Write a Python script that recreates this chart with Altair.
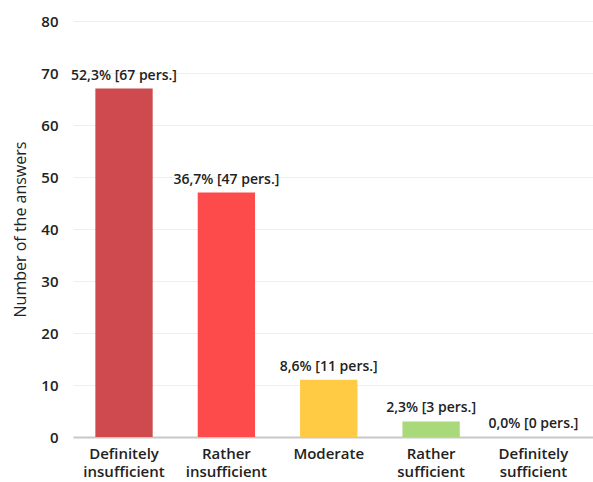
import altair as alt
import pandas as pd

# Survey answers: category, number of respondents, share of respondents
categories = ["Definitely insufficient", "Rather insufficient", "Moderate",
              "Rather sufficient", "Definitely sufficient"]
counts = [67, 47, 11, 3, 0]
percents = [52.3, 36.7, 8.6, 2.3, 0.0]
colors = ["#cf4a4f", "#fd4a4b", "#ffca44", "#aad97c", "#7fbf5f"]

labels = [f"{p:.1f}".replace(".", ",") + f"% [{c} pers.]" for p, c in zip(percents, counts)]
df = pd.DataFrame({"category": categories, "count": counts, "label": labels})

FONT = "Open Sans"

x_enc = alt.X(
    "category:N",
    sort=categories,
    scale=alt.Scale(paddingInner=0.44, paddingOuter=0.26, align=0.42),
    axis=alt.Axis(
        title=None,
        labelAngle=0,
        labelExpr="split(datum.label, ' ')",
        labelFont=FONT,
        labelFontSize=15,
        labelFontWeight=600,
        labelColor="#222222",
        labelPadding=9,
        labelLineHeight=18,
        ticks=False,
        domainColor="#c8c8c8",
        domainWidth=2,
        grid=False,
    ),
)

y_enc = alt.Y(
    "count:Q",
    scale=alt.Scale(domain=[0, 80], nice=False),
    axis=alt.Axis(
        title="Number of the answers",
        titleFont=FONT,
        titleFontSize=16,
        titleFontWeight="normal",
        titleColor="#222222",
        titlePadding=12,
        values=[0, 10, 20, 30, 40, 50, 60, 70, 80],
        labelFont=FONT,
        labelFontSize=15,
        labelFontWeight=600,
        labelColor="#222222",
        labelPadding=15,
        ticks=False,
        domain=False,
        gridColor="#eeeeee",
        gridWidth=1,
    ),
)

bars = alt.Chart(df).mark_bar().encode(
    x=x_enc,
    y=y_enc,
    color=alt.Color("category:N", sort=categories,
                    scale=alt.Scale(domain=categories, range=colors), legend=None),
)

text = alt.Chart(df).mark_text(
    baseline="bottom", dy=-6, font=FONT, fontSize=14, fontWeight=600, color="#222222"
).encode(
    x=alt.X("category:N", sort=categories),
    y=alt.Y("count:Q"),
    text="label:N",
)

chart = (
    alt.layer(bars, text)
    .properties(
        width=520,
        height=416,
        autosize=alt.AutoSizeParams(type="none"),
        padding={"left": 73, "top": 21, "right": 0, "bottom": 45},
        background="white",
    )
    .configure_view(stroke=None)
)

chart.save("out.html", embed_options={"renderer": "svg", "actions": False})
